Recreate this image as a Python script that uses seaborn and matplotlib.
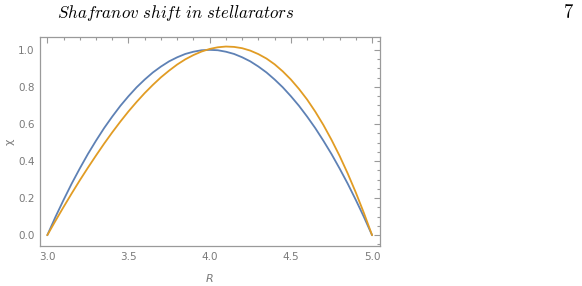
import numpy as np
import pandas as pd
import seaborn as sns
import matplotlib
matplotlib.use("Agg")
import matplotlib.pyplot as plt
from matplotlib.ticker import MultipleLocator, FormatStrFormatter

# values
R = [3.00, 3.05, 3.10, 3.15, 3.20, 3.25, 3.30, 3.35, 3.40, 3.45, 3.50,
     3.55, 3.60, 3.65, 3.70, 3.75, 3.80, 3.85, 3.90, 3.95, 4.00,
     4.05, 4.10, 4.15, 4.20, 4.25, 4.30, 4.35, 4.40, 4.45, 4.50,
     4.55, 4.60, 4.65, 4.70, 4.75, 4.80, 4.85, 4.90, 4.95, 5.00]
chi_blue = [0.0, 0.098, 0.19, 0.278, 0.36, 0.438, 0.51, 0.578, 0.64, 0.698, 0.75,
            0.798, 0.84, 0.878, 0.91, 0.938, 0.96, 0.978, 0.99, 0.998, 1.0,
            0.998, 0.99, 0.978, 0.96, 0.938, 0.91, 0.878, 0.84, 0.798, 0.75,
            0.698, 0.64, 0.578, 0.51, 0.438, 0.36, 0.278, 0.19, 0.098, 0.0]
chi_orange = [0.0, 0.077, 0.152, 0.225, 0.296, 0.364, 0.430, 0.494, 0.555, 0.613, 0.668,
              0.719, 0.767, 0.811, 0.852, 0.888, 0.921, 0.949, 0.972, 0.991, 1.005,
              1.014, 1.018, 1.016, 1.009, 0.996, 0.977, 0.953, 0.922, 0.884, 0.840,
              0.789, 0.732, 0.667, 0.595, 0.515, 0.428, 0.333, 0.230, 0.119, 0.0]

df = pd.DataFrame({
    "R": R * 2,
    "chi": chi_blue + chi_orange,
    "curve": ["a"] * len(R) + ["b"] * len(R),
})

sns.set_style("white")
plt.rcParams["mathtext.fontset"] = "cm"

grey = "#7a7a7a"
fig = plt.figure(figsize=(5.82, 2.86), dpi=100)
ax = fig.add_axes([0.0687, 0.140, 0.584, 0.731])

sns.lineplot(data=df, x="R", y="chi", hue="curve", palette=["#5E81B5", "#E19C24"],
             linewidth=1.3, legend=False, ax=ax, sort=False)

ax.set_xlim(2.955, 5.048)
ax.set_ylim(-0.058, 1.07)
ax.xaxis.set_major_locator(MultipleLocator(0.5))
ax.xaxis.set_minor_locator(MultipleLocator(0.1))
ax.yaxis.set_major_locator(MultipleLocator(0.2))
ax.yaxis.set_minor_locator(MultipleLocator(0.05))
ax.xaxis.set_major_formatter(FormatStrFormatter("%.1f"))
ax.yaxis.set_major_formatter(FormatStrFormatter("%.1f"))

ax.tick_params(which="both", direction="in", top=True, right=True, color="#9a9a9a",
               labelcolor=grey, labelsize=7.5, width=0.8)
ax.tick_params(which="major", length=4, pad=4)
ax.tick_params(which="minor", length=2)
for s in ax.spines.values():
    s.set_color("#9a9a9a")
    s.set_linewidth(0.9)

ax.set_xlabel("R", color=grey, fontsize=8, style="italic", labelpad=9)
ax.set_ylabel("χ", color=grey, fontsize=8, labelpad=2)

fig.text(0.098, 0.955, r"$\mathit{Shafranov\ shift\ in\ stellarators}$",
         fontsize=12.2, va="center", ha="left", color="black")
fig.text(0.976, 0.955, r"$\mathrm{7}$", fontsize=13.5, va="center", ha="center", color="black")

fig.savefig("out.png", dpi=100)
